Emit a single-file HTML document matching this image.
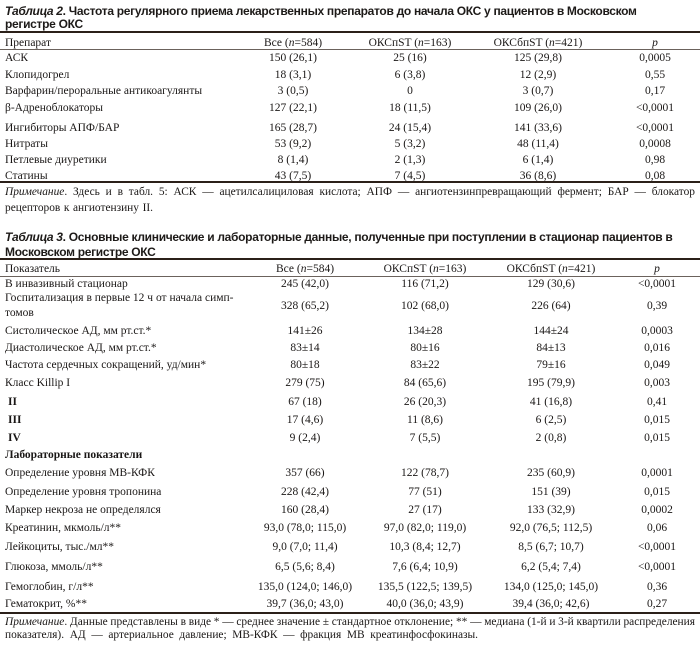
<!DOCTYPE html>
<html><head><meta charset="utf-8">
<style>
html,body{margin:0;padding:0;background:#fff;}
body{width:700px;height:645px;position:relative;overflow:hidden;color:#1a1716;
font-family:"Liberation Serif","Noto Serif CJK SC",serif;font-size:11.5px;}
.t{position:absolute;left:5px;height:14px;line-height:14px;white-space:nowrap;
font-family:"Liberation Sans","Noto Sans CJK SC",sans-serif;font-weight:bold;font-size:12px;letter-spacing:-0.3px;color:#1d1a18;}
.t i{font-style:italic;}
.row{position:absolute;left:0;width:700px;height:14px;line-height:14px;white-space:nowrap;}
.row span{position:absolute;top:0;}
.l{left:5px;}
.b{font-weight:bold;}
.c{width:200px;margin-left:-100px;text-align:center;}
.rule{position:absolute;left:0;width:700px;background:#2b2019;}
.thin{position:absolute;left:0;width:700px;height:1px;background:#6b625c;}
.note{position:absolute;left:5px;width:690px;height:14px;line-height:14px;font-size:11.4px;word-spacing:-1.5px;}
.j{text-align:justify;text-align-last:justify;}
</style></head><body>

<!-- Table 2 -->
<div class="t" style="top:4px"><i>Таблица 2</i>. Частота регулярного приема лекарственных препаратов до начала ОКС у пациентов в Московском</div>
<div class="t" style="top:17px">регистре ОКС</div>
<div class="rule" style="top:31px;height:2px"></div>

<div class="row" style="top:35.5px"><span class="l">Препарат</span><span class="c" style="left:293px">Все (<i>n</i>=584)</span><span class="c" style="left:410px">ОКСпST (<i>n</i>=163)</span><span class="c" style="left:538px">ОКСбпST (<i>n</i>=421)</span><span class="c" style="left:655px"><i>p</i></span></div>
<div class="thin" style="top:49px"></div>

<div class="row" style="top:51px"><span class="l">АСК</span><span class="c" style="left:293px">150 (26,1)</span><span class="c" style="left:410px">25 (16)</span><span class="c" style="left:538px">125 (29,8)</span><span class="c" style="left:655px">0,0005</span></div>
<div class="row" style="top:67.5px"><span class="l">Клопидогрел</span><span class="c" style="left:293px">18 (3,1)</span><span class="c" style="left:410px">6 (3,8)</span><span class="c" style="left:538px">12 (2,9)</span><span class="c" style="left:655px">0,55</span></div>
<div class="row" style="top:84px"><span class="l">Варфарин/пероральные антикоагулянты</span><span class="c" style="left:293px">3 (0,5)</span><span class="c" style="left:410px">0</span><span class="c" style="left:538px">3 (0,7)</span><span class="c" style="left:655px">0,17</span></div>
<div class="row" style="top:100.5px"><span class="l">β-Адреноблокаторы</span><span class="c" style="left:293px">127 (22,1)</span><span class="c" style="left:410px">18 (11,5)</span><span class="c" style="left:538px">109 (26,0)</span><span class="c" style="left:655px">&lt;0,0001</span></div>
<div class="row" style="top:120.5px"><span class="l">Ингибиторы АПФ/БАР</span><span class="c" style="left:293px">165 (28,7)</span><span class="c" style="left:410px">24 (15,4)</span><span class="c" style="left:538px">141 (33,6)</span><span class="c" style="left:655px">&lt;0,0001</span></div>
<div class="row" style="top:137px"><span class="l">Нитраты</span><span class="c" style="left:293px">53 (9,2)</span><span class="c" style="left:410px">5 (3,2)</span><span class="c" style="left:538px">48 (11,4)</span><span class="c" style="left:655px">0,0008</span></div>
<div class="row" style="top:153px"><span class="l">Петлевые диуретики</span><span class="c" style="left:293px">8 (1,4)</span><span class="c" style="left:410px">2 (1,3)</span><span class="c" style="left:538px">6 (1,4)</span><span class="c" style="left:655px">0,98</span></div>
<div class="row" style="top:169px"><span class="l">Статины</span><span class="c" style="left:293px">43 (7,5)</span><span class="c" style="left:410px">7 (4,5)</span><span class="c" style="left:538px">36 (8,6)</span><span class="c" style="left:655px">0,08</span></div>
<div class="rule" style="top:181px;height:2px"></div>

<div class="note j" style="top:184.5px"><i>Примечание</i>. Здесь и в табл. 5: АСК — ацетилсалициловая кислота; АПФ — ангиотензинпревращающий фермент; БАР — блокатор</div>
<div class="note j" style="top:201px;width:148px">рецепторов к ангиотензину II.</div>

<!-- Table 3 -->
<div class="t" style="top:230px"><i>Таблица 3</i>. Основные клинические и лабораторные данные, полученные при поступлении в стационар пациентов в</div>
<div class="t" style="top:245px">Московском регистре ОКС</div>
<div class="rule" style="top:258px;height:2px"></div>

<div class="row" style="top:262px"><span class="l">Показатель</span><span class="c" style="left:305px">Все (<i>n</i>=584)</span><span class="c" style="left:425px">ОКСпST (<i>n</i>=163)</span><span class="c" style="left:551px">ОКСбпST (<i>n</i>=421)</span><span class="c" style="left:657px"><i>p</i></span></div>
<div class="thin" style="top:276px"></div>

<div class="row" style="top:277px"><span class="l">В инвазивный стационар</span><span class="c" style="left:305px">245 (42,0)</span><span class="c" style="left:425px">116 (71,2)</span><span class="c" style="left:551px">129 (30,6)</span><span class="c" style="left:657px">&lt;0,0001</span></div>
<div class="row" style="top:291px"><span class="l">Госпитализация в первые 12 ч от начала симп-</span></div>
<div class="row" style="top:306px"><span class="l">томов</span></div>
<div class="row" style="top:299px"><span class="c" style="left:305px">328 (65,2)</span><span class="c" style="left:425px">102 (68,0)</span><span class="c" style="left:551px">226 (64)</span><span class="c" style="left:657px">0,39</span></div>
<div class="row" style="top:323.5px"><span class="l">Систолическое АД, мм рт.ст.*</span><span class="c" style="left:305px">141±26</span><span class="c" style="left:425px">134±28</span><span class="c" style="left:551px">144±24</span><span class="c" style="left:657px">0,0003</span></div>
<div class="row" style="top:340.5px"><span class="l">Диастолическое АД, мм рт.ст.*</span><span class="c" style="left:305px">83±14</span><span class="c" style="left:425px">80±16</span><span class="c" style="left:551px">84±13</span><span class="c" style="left:657px">0,016</span></div>
<div class="row" style="top:358px"><span class="l">Частота сердечных сокращений, уд/мин*</span><span class="c" style="left:305px">80±18</span><span class="c" style="left:425px">83±22</span><span class="c" style="left:551px">79±16</span><span class="c" style="left:657px">0,049</span></div>
<div class="row" style="top:376px"><span class="l">Класс Killip I</span><span class="c" style="left:305px">279 (75)</span><span class="c" style="left:425px">84 (65,6)</span><span class="c" style="left:551px">195 (79,9)</span><span class="c" style="left:657px">0,003</span></div>
<div class="row" style="top:395px"><span class="b" style="left:8px">II</span><span class="c" style="left:305px">67 (18)</span><span class="c" style="left:425px">26 (20,3)</span><span class="c" style="left:551px">41 (16,8)</span><span class="c" style="left:657px">0,41</span></div>
<div class="row" style="top:413px"><span class="b" style="left:8px">III</span><span class="c" style="left:305px">17 (4,6)</span><span class="c" style="left:425px">11 (8,6)</span><span class="c" style="left:551px">6 (2,5)</span><span class="c" style="left:657px">0,015</span></div>
<div class="row" style="top:431px"><span class="b" style="left:8px">IV</span><span class="c" style="left:305px">9 (2,4)</span><span class="c" style="left:425px">7 (5,5)</span><span class="c" style="left:551px">2 (0,8)</span><span class="c" style="left:657px">0,015</span></div>
<div class="row" style="top:448px"><span class="l b">Лабораторные показатели</span></div>
<div class="row" style="top:466px"><span class="l">Определение уровня МВ-КФК</span><span class="c" style="left:305px">357 (66)</span><span class="c" style="left:425px">122 (78,7)</span><span class="c" style="left:551px">235 (60,9)</span><span class="c" style="left:657px">0,0001</span></div>
<div class="row" style="top:485px"><span class="l">Определение уровня тропонина</span><span class="c" style="left:305px">228 (42,4)</span><span class="c" style="left:425px">77 (51)</span><span class="c" style="left:551px">151 (39)</span><span class="c" style="left:657px">0,015</span></div>
<div class="row" style="top:503px"><span class="l">Маркер некроза не определялся</span><span class="c" style="left:305px">160 (28,4)</span><span class="c" style="left:425px">27 (17)</span><span class="c" style="left:551px">133 (32,9)</span><span class="c" style="left:657px">0,0002</span></div>
<div class="row" style="top:521px"><span class="l">Креатинин, мкмоль/л**</span><span class="c" style="left:305px">93,0 (78,0; 115,0)</span><span class="c" style="left:425px">97,0 (82,0; 119,0)</span><span class="c" style="left:551px">92,0 (76,5; 112,5)</span><span class="c" style="left:657px">0,06</span></div>
<div class="row" style="top:540px"><span class="l">Лейкоциты, тыс./мл**</span><span class="c" style="left:305px">9,0 (7,0; 11,4)</span><span class="c" style="left:425px">10,3 (8,4; 12,7)</span><span class="c" style="left:551px">8,5 (6,7; 10,7)</span><span class="c" style="left:657px">&lt;0,0001</span></div>
<div class="row" style="top:560px"><span class="l">Глюкоза, ммоль/л**</span><span class="c" style="left:305px">6,5 (5,6; 8,4)</span><span class="c" style="left:425px">7,6 (6,4; 10,9)</span><span class="c" style="left:551px">6,2 (5,4; 7,4)</span><span class="c" style="left:657px">&lt;0,0001</span></div>
<div class="row" style="top:580px"><span class="l">Гемоглобин, г/л**</span><span class="c" style="left:305px">135,0 (124,0; 146,0)</span><span class="c" style="left:425px">135,5 (122,5; 139,5)</span><span class="c" style="left:551px">134,0 (125,0; 145,0)</span><span class="c" style="left:657px">0,36</span></div>
<div class="row" style="top:597px"><span class="l">Гематокрит, %**</span><span class="c" style="left:305px">39,7 (36,0; 43,0)</span><span class="c" style="left:425px">40,0 (36,0; 43,9)</span><span class="c" style="left:551px">39,4 (36,0; 42,6)</span><span class="c" style="left:657px">0,27</span></div>
<div class="rule" style="top:612px;height:2px"></div>

<div class="note j" style="top:615px"><i>Примечание</i>. Данные представлены в виде * — среднее значение ± стандартное отклонение; ** — медиана (1-й и 3-й квартили распределения</div>
<div class="note j" style="top:627.5px;width:473px">показателя). АД — артериальное давление; МВ-КФК — фракция МВ креатинфосфокиназы.</div>

</body></html>
